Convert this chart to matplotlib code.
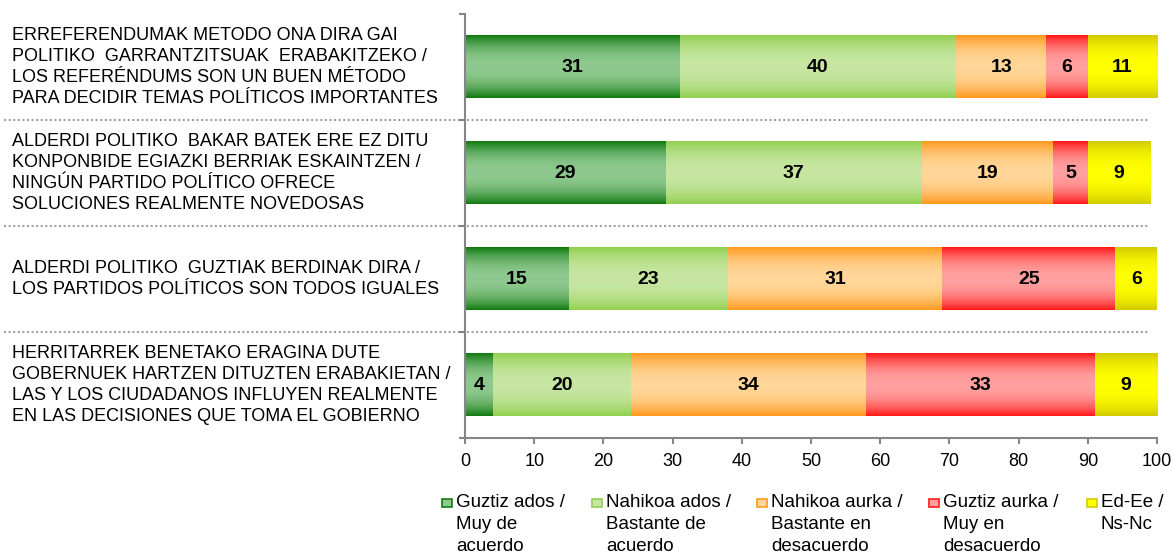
import numpy as np
import matplotlib
matplotlib.use('Agg')
import matplotlib.pyplot as plt
from matplotlib.colors import to_rgb
from matplotlib.transforms import blended_transform_factory
from matplotlib.patches import Rectangle

plt.rcParams['font.family'] = ['Liberation Sans', 'DejaVu Sans']

# ---------------- data ----------------
categories = [
    "ERREFERENDUMAK METODO ONA DIRA GAI\nPOLITIKO  GARRANTZITSUAK  ERABAKITZEKO /\nLOS REFERÉNDUMS SON UN BUEN MÉTODO\nPARA DECIDIR TEMAS POLÍTICOS IMPORTANTES",
    "ALDERDI POLITIKO  BAKAR BATEK ERE EZ DITU\nKONPONBIDE EGIAZKI BERRIAK ESKAINTZEN /\nNINGÚN PARTIDO POLÍTICO OFRECE\nSOLUCIONES REALMENTE NOVEDOSAS",
    "ALDERDI POLITIKO  GUZTIAK BERDINAK DIRA /\nLOS PARTIDOS POLÍTICOS SON TODOS IGUALES",
    "HERRITARREK BENETAKO ERAGINA DUTE\nGOBERNUEK HARTZEN DITUZTEN ERABAKIETAN /\nLAS Y LOS CIUDADANOS INFLUYEN REALMENTE\nEN LAS DECISIONES QUE TOMA EL GOBIERNO",
]
series_names = [
    "Guztiz ados /\nMuy de\nacuerdo",
    "Nahikoa ados /\nBastante de\nacuerdo",
    "Nahikoa aurka /\nBastante en\ndesacuerdo",
    "Guztiz aurka /\nMuy en\ndesacuerdo",
    "Ed-Ee /\nNs-Nc",
]
guztiz_ados = [31, 29, 15, 4]
nahikoa_ados = [40, 37, 23, 20]
nahikoa_aurka = [13, 19, 31, 34]
guztiz_aurka = [6, 5, 25, 33]
ed_ee = [10, 9, 6, 9]
# labels as printed on the chart
guztiz_ados_lbl = [31, 29, 15, 4]
nahikoa_ados_lbl = [40, 37, 23, 20]
nahikoa_aurka_lbl = [13, 19, 31, 34]
guztiz_aurka_lbl = [6, 5, 25, 33]
ed_ee_lbl = [11, 9, 6, 9]
x_ticks = [0, 10, 20, 30, 40, 50, 60, 70, 80, 90, 100]

series = [guztiz_ados, nahikoa_ados, nahikoa_aurka, guztiz_aurka, ed_ee]
series_lbl = [guztiz_ados_lbl, nahikoa_ados_lbl, nahikoa_aurka_lbl, guztiz_aurka_lbl, ed_ee_lbl]

# ---------------- style ----------------
edge_cols = ['#127C12', '#92D050', '#FF9A1F', '#FF1A1A', '#D2CB00']
center_cols = ['#8FC98F', '#C6E6A2', '#FFD699', '#FFA0A0', '#FFFF00']

W, H = 1173, 556
fig = plt.figure(figsize=(W / 100, H / 100), dpi=100)
ax = fig.add_axes([465 / W, (H - 438) / H, 692 / W, 424 / H])

def gradient(edge, center, n=64):
    e = np.array(to_rgb(edge)); c = np.array(to_rgb(center))
    t = np.abs(np.linspace(-1, 1, n)) ** 2.2
    return (c[None, :] * (1 - t[:, None]) + e[None, :] * t[:, None])[:, None, :]

ypos = np.arange(len(categories))
bar_h = 0.585
lefts = np.zeros(len(categories))
for vals, lbls, ec, cc in zip(series, series_lbl, edge_cols, center_cols):
    bars = ax.barh(ypos, vals, left=lefts, height=bar_h, color=cc, edgecolor='none', zorder=2)
    grad = gradient(ec, cc)
    for b, v, l in zip(bars, vals, lbls):
        x0, y0 = b.get_x(), b.get_y()
        ax.imshow(grad, extent=(x0, x0 + b.get_width(), y0, y0 + b.get_height()),
                  aspect='auto', interpolation='bilinear', zorder=2.5)
        ax.text(x0 + b.get_width() / 2, y0 + b.get_height() / 2, str(l),
                ha='center', va='center', fontsize=14, fontweight='bold', color='black', zorder=3)
    lefts = lefts + np.array(vals)

ax.set_xlim(0, 100)
ax.set_ylim(len(categories) - 0.5, -0.5)

# separators
tr = blended_transform_factory(fig.transFigure, ax.transData)
for b in np.arange(0.5, len(categories) - 0.5, 1.0):
    ax.plot([4 / W, 1148 / W], [b, b], transform=tr, ls=(0, (1, 1.2)), color='#A0A0A0',
            lw=1.5, clip_on=False, zorder=1)

# category labels
for y, c in zip(ypos, categories):
    ax.text(12 / W, y, c, transform=tr, ha='left', va='center', fontsize=13,
            linespacing=1.32, color='black')

# axes styling
for s in ['top', 'right']:
    ax.spines[s].set_visible(False)
for s in ['left', 'bottom']:
    ax.spines[s].set_color('#868686')
    ax.spines[s].set_linewidth(1.5)
ax.set_xticks(x_ticks)
ax.set_xticklabels([str(t) for t in x_ticks])
ax.set_yticks(np.arange(-0.5, len(categories), 1.0))
ax.set_yticklabels([])
ax.tick_params(axis='x', direction='out', length=4, width=1.5, color='#868686',
               labelsize=13, labelcolor='black', pad=7)
ax.tick_params(axis='y', direction='out', length=4, width=1.5, color='#868686')

# legend
leg_x = [442, 592, 757, 929, 1087]
for x, name, ec, cc in zip(leg_x, series_names, edge_cols, center_cols):
    fig.add_artist(Rectangle((x / W, (H - 507) / H), 10 / W, 8 / H, transform=fig.transFigure,
                             facecolor=cc, edgecolor=ec, lw=1.2))
    fig.text((x + 14) / W, (H - 494) / H, name, ha='left', va='top', fontsize=13.5,
             linespacing=1.38, color='black')

fig.savefig('out.png', dpi=100)
